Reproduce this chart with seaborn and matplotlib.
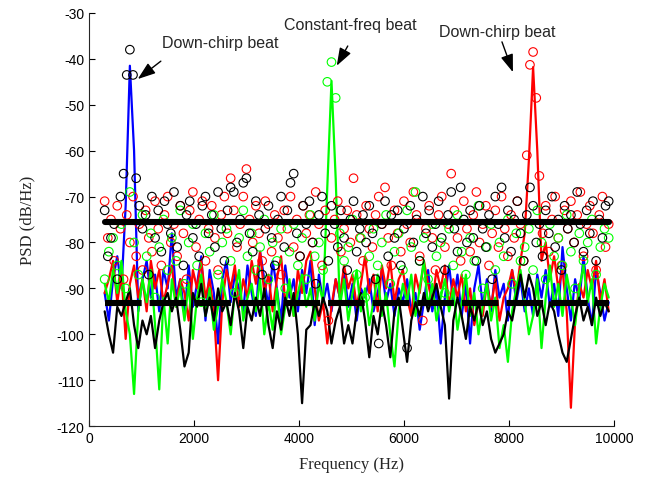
import numpy as np
import matplotlib
matplotlib.use("Agg")
import matplotlib.pyplot as plt
import seaborn as sns

# ---- spectra (line traces), 80 Hz bins ----
freq_lines = np.arange(300, 9901, 80)

psd_black = [
    -95, -100, -104, -94, -96, -93, -90, -98, -103, -97, -100, -96, -103, -97, -93, -91,
    -95, -92, -99, -107, -104, -91, -94, -89, -96, -92, -97, -90, -95, -93, -98, -91,
    -95, -103, -94, -97, -92, -96, -90, -98, -103, -95, -99, -92, -96, -91, -100, -115,
    -99, -98, -93, -96, -92, -95, -102, -97, -94, -102, -98, -102, -95, -91, -97, -105,
    -96, -100, -93, -98, -105, -95, -92, -99, -106, -97, -93, -96, -91, -95, -92, -89,
    -94, -98, -114, -97, -92, -96, -101, -94, -97, -93, -98, -95, -101, -104, -102, -100,
    -95, -97, -92, -87, -92, -87, -90, -96, -93, -98, -93, -95, -100, -104, -106, -101,
    -96, -92, -97, -94, -98, -92, -96, -93, -95,
]

psd_blue = [
    -91, -97, -88, -83, -90, -72, -41.5, -60, -95, -88, -84, -92, -87, -95, -86, -90,
    -78, -92, -88, -96, -85, -94, -89, -83, -97, -86, -91, -102, -88, -84, -93, -87,
    -90, -95, -85, -91, -96, -82, -88, -94, -84, -90, -97, -85, -92, -88, -95, -86,
    -91, -84, -98, -87, -93, -89, -95, -88, -92, -86, -94, -89, -97, -90, -92, -88,
    -95, -91, -86, -93, -89, -96, -90, -93, -88, -95, -91, -99, -93, -86, -95, -90,
    -102, -92, -85, -93, -87, -96, -89, -102, -90, -85, -94, -88, -95, -86, -92, -89,
    -97, -86, -93, -88, -95, -90, -96, -87, -92, -86, -94, -89, -96, -81, -90, -97,
    -88, -93, -83, -92, -98, -86, -91, -97, -93,
]

psd_red = [
    -91, -88, -84, -93, -87, -101, -89, -85, -92, -88, -95, -84, -90, -86, -93, -89,
    -85, -94, -88, -91, -97, -86, -90, -84, -92, -88, -95, -110, -93, -86, -90, -85,
    -94, -88, -92, -84, -89, -82, -91, -87, -95, -88, -83, -93, -89, -96, -86, -91,
    -84, -82, -90, -97, -93, -102, -94, -88, -92, -85, -90, -87, -94, -89, -83, -91,
    -87, -95, -85, -90, -84, -93, -88, -86, -92, -96, -87, -91, -84, -89, -93, -86,
    -90, -85, -94, -88, -92, -87, -95, -90, -98, -93, -96, -89, -94, -88, -97, -92,
    -90, -86, -91, -84, -78, -62, -41.8, -60, -84, -80, -88, -83, -90, -86, -95, -116,
    -97, -89, -92, -86, -90, -84, -93, -88, -95,
]

psd_green = [
    -89, -93, -86, -91, -84, -95, -100, -113, -95, -88, -93, -86, -98, -112, -92, -102,
    -88, -94, -90, -97, -89, -101, -92, -87, -96, -90, -99, -94, -88, -93, -100, -91,
    -86, -97, -92, -89, -95, -88, -100, -93, -99, -90, -100, -94, -88, -96, -91, -87,
    -94, -90, -97, -89, -93, -68, -44.8, -66, -94, -88, -97, -91, -86, -95, -90, -98,
    -93, -87, -96, -91, -100, -107, -95, -89, -93, -87, -96, -90, -84, -94, -89, -97,
    -92, -88, -95, -90, -99, -93, -87, -96, -91, -100, -94, -89, -97, -92, -103, -98,
    -106, -95, -90, -86, -93, -100, -96, -88, -103, -92, -85, -94, -89, -96, -87, -92,
    -98, -90, -85, -93, -88, -102, -94, -89, -92,
]

# ---- periodogram points (circles) ----
freq_black_pts = np.arange(300, 9901, 60)
psd_black_pts = [
    -73, -83, -79, -76, -88, -70, -65, -43.5, -38, -43.5, -66, -72, -77, -74, -87, -70,
    -79, -73, -82, -71, -76, -78, -69, -81, -72, -85, -74, -71, -79, -76, -83, -72,
    -70, -78, -74, -81, -69, -77, -84, -73, -68, -69, -80, -75, -67, -66, -78, -82,
    -71, -74, -87, -77, -72, -79, -85, -75, -70, -81, -73, -67, -65, -78, -83, -72,
    -76, -71, -80, -89, -74, -70, -78, -84, -72, -76, -81, -73, -79, -86, -75, -71,
    -82, -77, -74, -80, -72, -78, -88, -102, -76, -71, -83, -74, -79, -73, -85, -77,
    -103, -72, -80, -75, -84, -70, -78, -73, -81, -76, -71, -79, -86, -74, -69, -77,
    -82, -68, -75, -80, -73, -79, -84, -72, -77, -81, -74, -88, -70, -76, -68, -79,
    -73, -82, -75, -71, -78, -84, -74, -68, -72, -80, -76, -83, -73, -78, -70, -81,
    -75, -86, -72, -77, -74, -80, -69, -76, -82, -73, -78, -71, -84, -75, -79, -72,
    -71,
]

freq_red_pts = np.arange(300, 9901, 60)
psd_red_pts = [
    -71, -79, -75, -84, -72, -77, -88, -74, -80, -70, -83, -76, -86, -73, -79, -82,
    -71, -77, -85, -74, -70, -80, -76, -83, -72, -78, -88, -73, -69, -81, -75, -71,
    -84, -77, -72, -79, -86, -74, -70, -78, -66, -73, -81, -76, -70, -64, -75, -80,
    -72, -78, -84, -71, -76, -82, -74, -79, -87, -73, -77, -70, -81, -75, -83, -72,
    -78, -74, -80, -69, -76, -85, -73, -97, -79, -75, -71, -82, -77, -73, -80, -66,
    -74, -79, -84, -72, -77, -81, -74, -70, -76, -68, -79, -85, -73, -78, -82, -71,
    -76, -80, -69, -74, -83, -97, -77, -72, -79, -86, -74, -70, -81, -76, -65, -73,
    -79, -84, -71, -77, -82, -74, -69, -80, -76, -72, -85, -78, -73, -81, -70, -77,
    -83, -74, -79, -71, -76, -84, -61, -41.3, -38.5, -48.5, -65.5, -78, -72, -82, -75, -70,
    -79, -85, -73, -77, -71, -80, -74, -69, -83, -76, -72, -78, -86, -74, -70, -81,
    -76,
]

freq_green_pts = np.arange(300, 9901, 80)
psd_green_pts = [
    -88, -82, -79, -85, -76, -90, -69, -80, -87, -74, -83, -78, -92, -81, -75, -86,
    -79, -84, -73, -89, -80, -76, -85, -93, -78, -82, -74, -87, -80, -77, -84, -91,
    -79, -73, -83, -78, -86, -81, -75, -88, -80, -84, -77, -90, -82, -76, -85, -79,
    -88, -74, -83, -80, -86, -45, -40.7, -48.5, -78, -84, -81, -75, -87, -79, -92, -83,
    -77, -85, -80, -74, -89, -82, -78, -86, -73, -81, -69, -84, -79, -88, -76, -83,
    -80, -91, -77, -85, -74, -82, -87, -79, -84, -72, -90, -81, -76, -86, -80, -83,
    -75, -89, -78, -84, -81, -77, -86, -73, -80, -88, -76, -83, -79, -85, -74, -82,
    -90, -78, -84, -80, -75, -87, -81, -77, -79,
]

# reference levels (dB/Hz)
detection_threshold = -75.5
noise_floor = -93.2

x_ticks = [0, 2000, 4000, 6000, 8000, 10000]
y_ticks = list(range(-120, -29, 10))

sns.set_theme(style="ticks")
plt.rcParams["font.family"] = ["Liberation Sans", "DejaVu Sans"]
plt.rcParams["axes.unicode_minus"] = False

fig = plt.figure(figsize=(6.49, 4.81), dpi=100)
ax = fig.add_axes([0.137, 0.112, 0.809, 0.859])

# spectral traces
for vals, col in [(psd_blue, "#0000ff"), (psd_red, "#ff0000"),
                  (psd_green, "#00ff00"), (psd_black, "#000000")]:
    sns.lineplot(x=freq_lines, y=vals, color=col, linewidth=1.6,
                 estimator=None, sort=False, ax=ax, zorder=2)

# periodogram circles
for fx, vals, col in [(freq_red_pts, psd_red_pts, "#ff0000"),
                      (freq_green_pts, psd_green_pts, "#00ff00"),
                      (freq_black_pts, psd_black_pts, "#000000")]:
    sns.scatterplot(x=fx, y=vals, marker="o", s=38, facecolor="none",
                    edgecolor=col, linewidth=0.8, ax=ax, zorder=3)

# threshold and noise floor
span = np.array([freq_lines[0], freq_lines[-1]])
sns.lineplot(x=span, y=np.full(2, detection_threshold), color="black",
             linewidth=4.4, estimator=None, ax=ax, zorder=4)
ax.plot(span, np.full(2, noise_floor), color="black", linewidth=4.4,
        linestyle=(0, (6, 1.3)), solid_capstyle="butt", zorder=4)

# annotations
arrow_kw = dict(arrowstyle="-|>,head_length=0.9,head_width=0.32",
                color="black", lw=1.0, shrinkA=0, shrinkB=0)
ax.annotate("", xy=(930, -44.4), xytext=(1370, -40.5), arrowprops=arrow_kw)
ax.text(2500, -36.5, "Down-chirp beat", ha="center", va="center", fontsize=11.5)
ax.annotate("", xy=(4720, -41.5), xytext=(4930, -37.2), arrowprops=arrow_kw)
ax.text(4970, -32.6, "Constant-freq beat", ha="center", va="center", fontsize=11.5)
ax.annotate("", xy=(8076, -42.9), xytext=(7867, -36.3), arrowprops=arrow_kw)
ax.text(7770, -34.1, "Down-chirp beat", ha="center", va="center", fontsize=11.5)

ax.set_xlim(0, 10000)
ax.set_ylim(-120, -30)
ax.set_xticks(x_ticks)
ax.set_yticks(y_ticks)
ax.tick_params(direction="in", length=4, width=0.8, labelsize=10, colors="black")
for side in ["top", "right"]:
    ax.spines[side].set_visible(False)
for side in ["left", "bottom"]:
    ax.spines[side].set_color("#262626")
    ax.spines[side].set_linewidth(0.8)

ax.set_xlabel("Frequency (Hz)", family=["Liberation Serif", "DejaVu Serif"], fontsize=12, labelpad=8)
ax.set_ylabel("PSD (dB/Hz)", family=["Liberation Serif", "DejaVu Serif"], fontsize=12, labelpad=15)

fig.savefig("out.png", dpi=100)
